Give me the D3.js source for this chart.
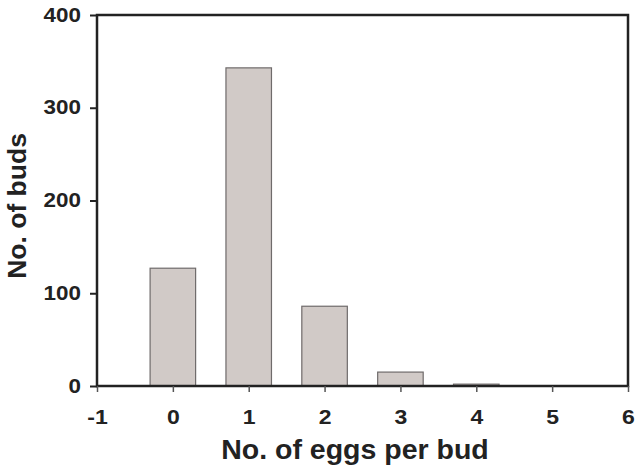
<!DOCTYPE html>
<html>
<head>
<meta charset="utf-8">
<script src="https://cdn.jsdelivr.net/npm/d3@7"></script>
<style>
  html, body { margin: 0; padding: 0; background: #fff; }
  svg { display: block; font-family: Arial, "Liberation Sans", sans-serif; }
</style>
</head>
<body>
<div id="chart"></div>
<script>
// data
const eggsPerBud = [0, 1, 2, 3, 4, 5];
const budCounts = [127, 343, 86, 15, 2, 0];
const xTicks = [-1, 0, 1, 2, 3, 4, 5, 6];
const yTicks = [0, 100, 200, 300, 400];

const width = 638;
const height = 467;
const margin = { top: 15, right: 10, bottom: 81, left: 97 };

const svg = d3.select('#chart')
    .append('svg')
    .attr('width', width)
    .attr('height', height);

const xScale = d3.scaleLinear()
    .domain([-1, 6])
    .range([margin.left, width - margin.right]);

const yScale = d3.scaleLinear()
    .domain([0, 400])
    .range([height - margin.bottom, margin.top]);

const barWidth = (xScale(1) - xScale(0)) * 0.6;

// bars
svg.append('g')
    .selectAll('rect')
    .data(eggsPerBud.map((d, i) => [d, budCounts[i]]).filter(d => d[1] > 0))
    .join('rect')
    .attr('x', d => xScale(d[0]) - barWidth / 2)
    .attr('y', d => yScale(d[1]))
    .attr('width', barWidth)
    .attr('height', d => yScale(0) - yScale(d[1]))
    .attr('fill', '#d1cac7')
    .attr('stroke', '#6f6b6b')
    .attr('stroke-width', 1.2);

// frame
svg.append('rect')
    .attr('x', xScale(-1))
    .attr('y', yScale(400))
    .attr('width', xScale(6) - xScale(-1))
    .attr('height', yScale(0) - yScale(400))
    .attr('fill', 'none')
    .attr('stroke', '#222')
    .attr('stroke-width', 2.5);

// x axis
const xAxis = svg.append('g')
    .attr('transform', 'translate(0,' + yScale(0) + ')')
    .call(d3.axisBottom(xScale).tickValues(xTicks).tickSize(6).tickPadding(18).tickFormat(d => String(d)));

xAxis.select('.domain').remove();
xAxis.selectAll('.tick line')
    .attr('stroke', '#555')
    .attr('stroke-width', 1.5);
xAxis.selectAll('text')
    .attr('transform', 'scale(1.15,1)')
    .style('font-size', '20px')
    .style('font-weight', 'bold')
    .style('font-family', 'Arial, "Liberation Sans", sans-serif')
    .attr('fill', '#222');

// y axis
const yAxis = svg.append('g')
    .attr('transform', 'translate(' + xScale(-1) + ',0)')
    .call(d3.axisLeft(yScale).tickValues(yTicks).tickSize(7).tickPadding(7));

yAxis.select('.domain').remove();
yAxis.selectAll('.tick line')
    .attr('stroke', '#222')
    .attr('stroke-width', 2);
yAxis.selectAll('text')
    .attr('transform', 'scale(1.15,1)')
    .style('font-size', '19.5px')
    .style('font-weight', 'bold')
    .style('font-family', 'Arial, "Liberation Sans", sans-serif')
    .attr('fill', '#222');

// x title
svg.append('text')
    .attr('x', 355)
    .attr('y', 459)
    .style('text-anchor', 'middle')
    .style('font-size', '28.5px')
    .style('font-weight', 'bold')
    .attr('fill', '#222')
    .text('No. of eggs per bud');

// y title
svg.append('text')
    .attr('transform', 'translate(26,206) rotate(-90)')
    .style('text-anchor', 'middle')
    .style('font-size', '26.5px')
    .style('font-weight', 'bold')
    .attr('fill', '#222')
    .text('No. of buds');
</script>
</body>
</html>
